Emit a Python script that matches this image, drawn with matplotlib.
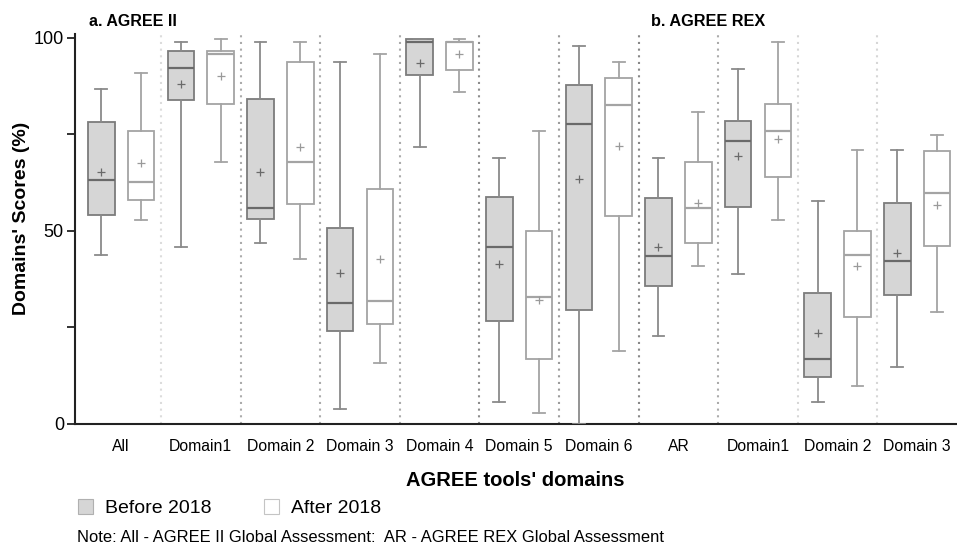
import matplotlib
matplotlib.use("Agg")
import matplotlib.pyplot as plt
from matplotlib.patches import Patch

plt.rcParams['font.family'] = ['Liberation Sans', 'DejaVu Sans']

categories = ["All", "Domain1", "Domain 2", "Domain 3", "Domain 4", "Domain 5",
              "Domain 6", "AR", "Domain1", "Domain 2", "Domain 3"]

# Five-number summaries plus mean for each domain, before 2018
before_min  = [43.8, 45.8, 46.9,  3.9, 71.8,  5.8,  0.0, 22.7, 38.8,  5.8, 14.7]
before_q1   = [54.2, 84.0, 53.2, 24.0, 90.4, 26.6, 29.5, 35.7, 56.1, 12.1, 33.3]
before_med  = [63.3, 92.3, 55.9, 31.4, 98.8, 45.8, 77.8, 43.4, 73.3, 16.9, 42.3]
before_q3   = [78.2, 96.7, 84.2, 50.8, 99.7, 58.9, 87.8, 58.5, 78.5, 33.8, 57.3]
before_max  = [86.7, 98.8, 98.8, 93.8, 99.7, 68.9, 97.8, 68.9, 91.9, 57.8, 70.9]
before_mean = [65.2, 88.1, 65.3, 39.2, 93.6, 41.5, 63.4, 45.8, 69.4, 23.5, 44.3]

# Same summaries, after 2018
after_min  = [52.9, 67.8, 42.8, 15.8, 85.9,  2.8, 18.8, 40.8, 52.9,  9.9, 28.9]
after_q1   = [57.9, 82.9, 57.0, 25.8, 91.8, 16.9, 53.9, 46.9, 63.9, 27.8, 46.0]
after_med  = [62.8, 95.8, 67.9, 31.9, 98.8, 32.9, 82.7, 55.9, 75.8, 43.8, 59.8]
after_q3   = [75.8, 96.7, 93.8, 60.8, 98.8, 49.9, 89.7, 67.8, 82.8, 49.9, 70.7]
after_max  = [90.9, 99.8, 98.8, 95.9, 99.8, 75.8, 93.8, 80.8, 98.8, 70.9, 74.9]
after_mean = [67.5, 90.1, 71.7, 42.8, 95.9, 32.0, 71.9, 57.3, 73.7, 41.0, 56.8]

series_labels = ["Before 2018", "After 2018"]
panel_titles = ["a. AGREE II", "b. AGREE REX"]
note_text = "Note: All - AGREE II Global Assessment:  AR - AGREE REX Global Assessment"


def make_stats(mins, q1s, meds, q3s, maxs, means):
    return [dict(whislo=a, q1=b, med=c, q3=d, whishi=e, mean=f, fliers=[])
            for a, b, c, d, e, f in zip(mins, q1s, meds, q3s, maxs, means)]


fig = plt.figure(figsize=(9.57, 5.47), dpi=100)
ax = fig.add_axes([75 / 957, 123 / 547, 882 / 957, 390 / 547])

n = len(categories)
xs = list(range(n))
off = 0.25
bw = 0.335

styles = [
    dict(stats=make_stats(before_min, before_q1, before_med, before_q3, before_max, before_mean),
         face="#d6d6d6", edge="#7c7c7c", med="#6a6a6a", whis="#8a8a8a", mean="#6a6a6a", pos=-off),
    dict(stats=make_stats(after_min, after_q1, after_med, after_q3, after_max, after_mean),
         face="#ffffff", edge="#a4a4a4", med="#a4a4a4", whis="#a4a4a4", mean="#9a9a9a", pos=off),
]

for st in styles:
    ax.bxp(st["stats"], positions=[x + st["pos"] for x in xs], widths=bw,
           patch_artist=True, showmeans=True, showfliers=False, capwidths=0.15,
           boxprops=dict(facecolor=st["face"], edgecolor=st["edge"], linewidth=1.3),
           medianprops=dict(color=st["med"], linewidth=1.6),
           whiskerprops=dict(color=st["whis"], linewidth=1.3),
           capprops=dict(color=st["whis"], linewidth=1.3),
           meanprops=dict(marker="+", markeredgecolor=st["mean"], markersize=6,
                          markeredgewidth=0.9, linestyle="none"),
           zorder=3)

# Dotted separators between domains
sep_colors = ["#dcdcdc", "#ababab", "#ababab", "#ababab", "#8c8c8c",
              "#9c9c9c", "#888888", "#ababab", "#d6d6d6", "#d6d6d6"]
for i, c in enumerate(sep_colors):
    ax.axvline(i + 0.5, color=c, linestyle=(0, (1, 2.2)), linewidth=1.5, zorder=1)

ax.set_xlim(-0.58, 10.5)
ax.set_ylim(0, 101)
ax.set_xticks(xs)
ax.set_xticklabels(categories, fontsize=11.3)
ax.tick_params(axis="x", length=0, pad=11)
ax.set_yticks([0, 50, 100])
ax.set_yticks([25, 75], minor=True)
ax.tick_params(axis="y", which="both", length=6, width=1.3, labelsize=13, pad=2,
               color="#222222")
for side in ("top", "right"):
    ax.spines[side].set_visible(False)
for side in ("left", "bottom"):
    ax.spines[side].set_linewidth(1.5)
    ax.spines[side].set_color("#222222")

ax.set_ylabel("Domains' Scores (%)", fontsize=14, fontweight="bold")
ax.yaxis.set_label_coords(-0.051, (424 - 218) / 390)

fig.text(89 / 957, 1 - 21 / 547, panel_titles[0], fontsize=11.5, fontweight="bold",
         ha="left", va="center")
fig.text(708 / 957, 1 - 21 / 547, panel_titles[1], fontsize=11.7, fontweight="bold",
         ha="center", va="center")
fig.text(515 / 957, 1 - 480 / 547, "AGREE tools' domains", fontsize=14.5,
         fontweight="bold", ha="center", va="center")

handles = [Patch(facecolor="#d6d6d6", edgecolor="#b0b0b0", linewidth=0.8),
           Patch(facecolor="#ffffff", edgecolor="#c4c4c4", linewidth=0.8)]
fig.legend(handles, series_labels, loc="center left",
           bbox_to_anchor=(60 / 957, 1 - 508 / 547), ncol=2, frameon=False,
           fontsize=14, handlelength=0.8, handleheight=0.8, columnspacing=2.7,
           handletextpad=0.6)

fig.text(77 / 957, 1 - 538 / 547, note_text, fontsize=11.9, ha="left", va="center")

fig.savefig("out.png", dpi=100)
